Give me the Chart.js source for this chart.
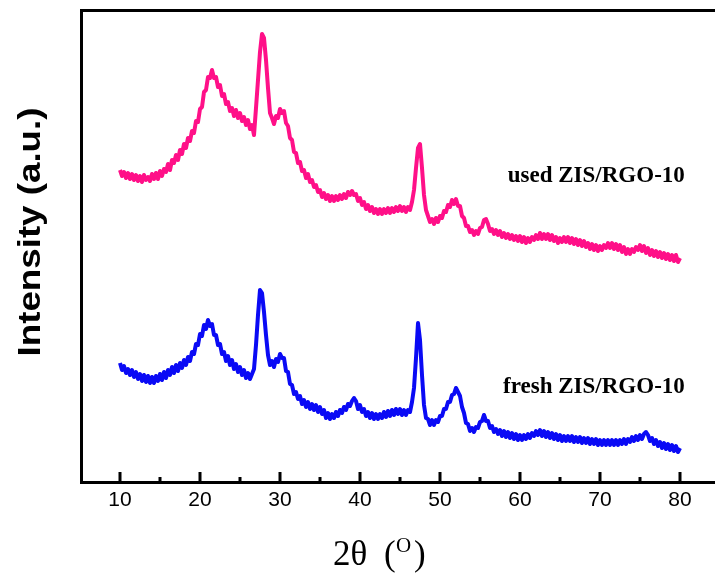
<!DOCTYPE html>
<html>
<head>
<meta charset="utf-8">
<script src="https://cdn.jsdelivr.net/npm/chart.js@4.4.1/dist/chart.umd.min.js"></script>
<style>
  html, body { margin: 0; padding: 0; background: #fff; }
  #wrap { width: 715px; height: 579px; }
</style>
</head>
<body>
<div id="wrap"><canvas id="xrdChart" width="715" height="579"></canvas></div>
<script>
// 2theta angles (deg), one row per degree
const twoTheta = [
  10, 10.25, 10.5, 10.75, 11, 11.25, 11.5, 11.75, 12, 12.25, 12.5, 12.75,
  13, 13.25, 13.5, 13.75, 14, 14.25, 14.5, 14.75, 15, 15.25, 15.5, 15.75,
  16, 16.25, 16.5, 16.75, 17, 17.25, 17.5, 17.75, 18, 18.25, 18.5, 18.75,
  19, 19.25, 19.5, 19.75, 20, 20.25, 20.5, 20.75, 21, 21.25, 21.5, 21.75,
  22, 22.25, 22.5, 22.75, 23, 23.25, 23.5, 23.75, 24, 24.25, 24.5, 24.75,
  25, 25.25, 25.5, 25.75, 26, 26.25, 26.5, 26.75, 27, 27.25, 27.5, 27.75,
  28, 28.25, 28.5, 28.75, 29, 29.25, 29.5, 29.75, 30, 30.25, 30.5, 30.75,
  31, 31.25, 31.5, 31.75, 32, 32.25, 32.5, 32.75, 33, 33.25, 33.5, 33.75,
  34, 34.25, 34.5, 34.75, 35, 35.25, 35.5, 35.75, 36, 36.25, 36.5, 36.75,
  37, 37.25, 37.5, 37.75, 38, 38.25, 38.5, 38.75, 39, 39.25, 39.5, 39.75,
  40, 40.25, 40.5, 40.75, 41, 41.25, 41.5, 41.75, 42, 42.25, 42.5, 42.75,
  43, 43.25, 43.5, 43.75, 44, 44.25, 44.5, 44.75, 45, 45.25, 45.5, 45.75,
  46, 46.25, 46.5, 46.75, 47, 47.25, 47.5, 47.75, 48, 48.25, 48.5, 48.75,
  49, 49.25, 49.5, 49.75, 50, 50.25, 50.5, 50.75, 51, 51.25, 51.5, 51.75,
  52, 52.25, 52.5, 52.75, 53, 53.25, 53.5, 53.75, 54, 54.25, 54.5, 54.75,
  55, 55.25, 55.5, 55.75, 56, 56.25, 56.5, 56.75, 57, 57.25, 57.5, 57.75,
  58, 58.25, 58.5, 58.75, 59, 59.25, 59.5, 59.75, 60, 60.25, 60.5, 60.75,
  61, 61.25, 61.5, 61.75, 62, 62.25, 62.5, 62.75, 63, 63.25, 63.5, 63.75,
  64, 64.25, 64.5, 64.75, 65, 65.25, 65.5, 65.75, 66, 66.25, 66.5, 66.75,
  67, 67.25, 67.5, 67.75, 68, 68.25, 68.5, 68.75, 69, 69.25, 69.5, 69.75,
  70, 70.25, 70.5, 70.75, 71, 71.25, 71.5, 71.75, 72, 72.25, 72.5, 72.75,
  73, 73.25, 73.5, 73.75, 74, 74.25, 74.5, 74.75, 75, 75.25, 75.5, 75.75,
  76, 76.25, 76.5, 76.75, 77, 77.25, 77.5, 77.75, 78, 78.25, 78.5, 78.75,
  79, 79.25, 79.5, 79.75, 80
];

// intensity (a.u.), used ZIS/RGO-10 (offset trace)
const usedIntensity = [
  312, 306, 310, 304, 309, 303, 308, 302, 307, 301, 306, 300,
  307, 302, 305, 301, 308, 303, 309, 303, 311, 306, 313, 310,
  318, 312, 322, 319, 327, 322, 332, 328, 338, 334, 344, 341,
  351, 349, 361, 360, 373, 375, 390, 392, 405, 404, 412, 404,
  405, 395, 397, 386, 388, 378, 380, 371, 374, 366, 372, 364,
  369, 361, 365, 357, 362, 353, 357, 347, 374, 402, 430, 448,
  444, 422, 394, 369, 364, 358, 366, 364, 373, 369, 371, 359,
  356, 344, 342, 330, 329, 319, 320, 311, 312, 304, 308, 300,
  302, 295, 297, 290, 292, 285, 289, 283, 287, 281, 286, 281,
  286, 282, 287, 283, 288, 284, 290, 287, 291, 287, 288, 281,
  284, 277, 280, 273, 277, 271, 275, 269, 273, 268, 273, 268,
  273, 269, 274, 269, 274, 270, 275, 271, 276, 271, 275, 270,
  275, 272, 280, 292, 314, 334, 338, 314, 287, 272, 266, 260,
  263, 258, 264, 260, 266, 264, 271, 270, 277, 275, 282, 278,
  283, 276, 276, 266, 264, 256, 256, 250, 252, 247, 251, 248,
  254, 255, 262, 263, 258, 251, 253, 248, 252, 247, 251, 245,
  249, 244, 248, 243, 247, 242, 246, 241, 246, 240, 245, 239,
  244, 240, 245, 242, 247, 243, 249, 243, 248, 243, 248, 242,
  247, 241, 245, 239, 244, 240, 245, 240, 245, 239, 244, 238,
  243, 237, 242, 236, 241, 235, 239, 233, 238, 232, 237, 231,
  236, 232, 237, 234, 239, 234, 239, 233, 238, 232, 237, 230,
  235, 228, 233, 228, 233, 230, 235, 232, 237, 231, 236, 229,
  234, 227, 232, 226, 231, 225, 230, 224, 229, 223, 228, 222,
  227, 221, 227, 220, 224
];

// intensity (a.u.), fresh ZIS/RGO-10
const freshIntensity = [
  119, 112, 116, 109, 113, 107, 112, 105, 110, 103, 108, 101,
  107, 100, 106, 99, 105, 99, 106, 101, 108, 102, 110, 104,
  112, 107, 115, 109, 117, 111, 119, 114, 122, 117, 125, 121,
  130, 128, 138, 137, 148, 146, 157, 153, 162, 156, 158, 147,
  147, 137, 138, 128, 130, 121, 126, 117, 122, 113, 118, 110,
  115, 107, 112, 104, 109, 103, 108, 113, 137, 167, 192, 189,
  170, 147, 127, 117, 121, 115, 123, 120, 128, 124, 124, 111,
  110, 98, 97, 88, 90, 83, 86, 78, 82, 75, 80, 73,
  78, 72, 77, 70, 75, 68, 72, 64, 69, 63, 68, 64,
  70, 66, 72, 69, 75, 72, 78, 76, 81, 84, 81, 73,
  77, 70, 73, 66, 70, 64, 69, 63, 68, 63, 68, 64,
  70, 65, 71, 66, 72, 67, 73, 68, 73, 67, 72, 67,
  72, 70, 80, 94, 124, 159, 142, 107, 77, 64, 63, 57,
  62, 57, 62, 60, 66, 66, 73, 73, 80, 80, 87, 88,
  94, 90, 86, 75, 69, 59, 58, 51, 54, 50, 55, 54,
  60, 61, 67, 61, 61, 54, 56, 50, 53, 48, 52, 46,
  51, 45, 50, 44, 49, 43, 48, 42, 47, 42, 47, 43,
  48, 44, 49, 46, 51, 47, 52, 46, 51, 45, 50, 44,
  49, 43, 48, 42, 47, 41, 46, 41, 46, 41, 46, 40,
  45, 40, 45, 39, 44, 39, 44, 38, 43, 38, 43, 37,
  42, 37, 42, 37, 42, 37, 42, 37, 42, 37, 42, 38,
  43, 38, 43, 40, 45, 41, 46, 42, 47, 43, 48, 50,
  47, 41, 44, 38, 42, 36, 40, 34, 39, 33, 38, 32,
  37, 31, 36, 30, 34
];

const majorTicks = [10, 20, 30, 40, 50, 60, 70, 80];
const minorTicks = [15, 25, 35, 45, 55, 65, 75];
const seriesNames = ['used ZIS/RGO-10', 'fresh ZIS/RGO-10'];
const xTitle = ['2\u03B8', '(', 'O', ')'];
const yTitle = 'Intensity (a.u.)';

// where the trace names sit, in data units
const nameAnchors = [{ x: 80.6, y: 300 }, { x: 80.6, y: 89 }];

const X_MIN = 5.125, X_MAX = 84.375;
const Y_MIN = 0, Y_MAX = 471.5;

const decor = {
  id: 'decor',
  afterDraw(chart) {
    const { ctx, chartArea, scales } = chart;
    const x = scales.x, y = scales.y;
    ctx.save();

    // inward ticks on bottom axis
    ctx.fillStyle = '#000';
    majorTicks.forEach(v => {
      const px = x.getPixelForValue(v);
      ctx.fillRect(px - 1.5, chartArea.bottom - 10, 3, 10);
    });
    minorTicks.forEach(v => {
      const px = x.getPixelForValue(v);
      ctx.fillRect(px - 1.5, chartArea.bottom - 5, 3, 5);
    });

    // trace names
    ctx.font = 'bold 23px "Liberation Serif", "Times New Roman", serif';
    ctx.textAlign = 'right';
    ctx.textBaseline = 'alphabetic';
    seriesNames.forEach((name, i) => {
      ctx.fillText(name, x.getPixelForValue(nameAnchors[i].x), y.getPixelForValue(nameAnchors[i].y));
    });

    // x title: 2θ ( superscript O )
    const cx = 380, base = 565;
    ctx.textAlign = 'left';
    ctx.font = '35px "Liberation Serif", "Times New Roman", serif';
    ctx.fillText(xTitle[0], cx - 47, base);
    ctx.fillText(xTitle[1], cx + 4, base);
    ctx.fillText(xTitle[3], cx + 34, base);
    ctx.font = '21px "Liberation Serif", "Times New Roman", serif';
    ctx.fillText(xTitle[2], cx + 16, base - 13);

    // y title
    ctx.font = 'bold 31px "Liberation Sans", Arial, sans-serif';
    const w = ctx.measureText(yTitle).width;
    ctx.translate(31, 232);
    ctx.rotate(-Math.PI / 2);
    ctx.scale(249 / w, 1);
    ctx.textAlign = 'center';
    ctx.textBaseline = 'middle';
    ctx.fillText(yTitle, 0, 0);
    ctx.restore();
  }
};

new Chart(document.getElementById('xrdChart'), {
  type: 'line',
  data: {
    datasets: [{
      label: seriesNames[0],
      data: twoTheta.map((t, i) => ({ x: t, y: usedIntensity[i] })),
      borderColor: '#FF1088',
      borderWidth: 4,
      borderJoinStyle: 'round',
      pointRadius: 0,
      tension: 0,
      fill: false
    }, {
      label: seriesNames[1],
      data: twoTheta.map((t, i) => ({ x: t, y: freshIntensity[i] })),
      borderColor: '#0A0AF5',
      borderWidth: 4,
      borderJoinStyle: 'round',
      pointRadius: 0,
      tension: 0,
      fill: false
    }]
  },
  options: {
    responsive: false,
    animation: false,
    devicePixelRatio: 1,
    layout: { padding: { left: 81, top: 10.5, right: 0, bottom: 0 } },
    plugins: { legend: { display: false }, tooltip: { enabled: false } },
    scales: {
      x: {
        type: 'linear',
        position: 'bottom',
        min: X_MIN,
        max: X_MAX,
        afterBuildTicks: s => { s.ticks = majorTicks.map(v => ({ value: v })); },
        afterFit: s => { s.height = 97; },
        ticks: {
          autoSkip: false,
          maxRotation: 0,
          padding: 6,
          color: '#000',
          font: { family: '"Liberation Sans", Arial, sans-serif', size: 21 }
        },
        grid: { display: false, drawTicks: false },
        border: { display: true, color: '#000', width: 3 }
      },
      xTop: {
        type: 'linear',
        position: 'top',
        min: X_MIN,
        max: X_MAX,
        afterFit: s => { s.height = 0; },
        ticks: { display: false },
        grid: { display: false, drawTicks: false },
        border: { display: true, color: '#000', width: 3 }
      },
      y: {
        type: 'linear',
        min: Y_MIN,
        max: Y_MAX,
        afterFit: s => { s.width = 0; },
        ticks: { display: false },
        grid: { display: false, drawTicks: false },
        border: { display: true, color: '#000', width: 3 }
      }
    }
  },
  plugins: [decor]
});
</script>
</body>
</html>
